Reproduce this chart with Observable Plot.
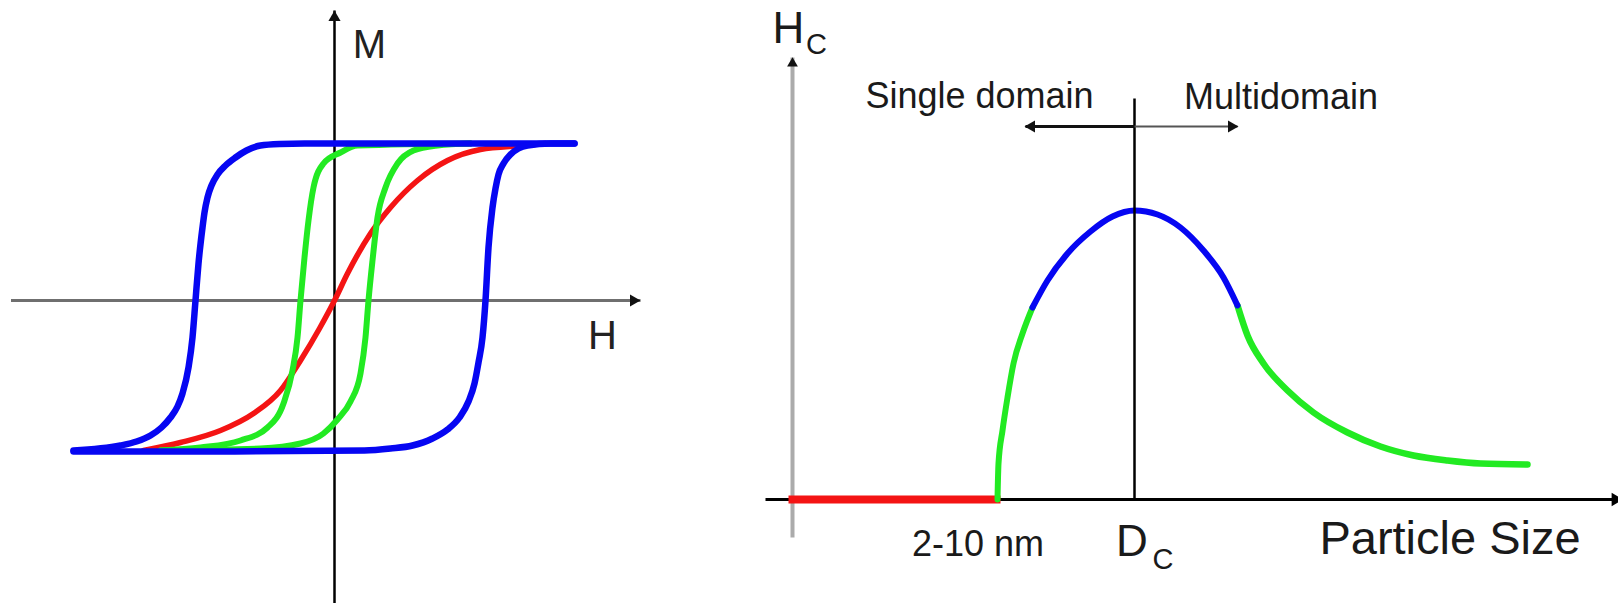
<!DOCTYPE html>
<html>
<head>
<meta charset="utf-8">
<script src="https://cdn.jsdelivr.net/npm/d3@7"></script>
<script src="https://cdn.jsdelivr.net/npm/@observablehq/plot@0.6"></script>
<style>
  html, body { margin: 0; padding: 0; background: #fff; }
  #wrap { position: relative; width: 1618px; height: 603px; overflow: hidden; background: #fff; }
  #wrap > svg { position: absolute; top: 0; }
</style>
</head>
<body>
<div id="wrap"></div>
<script>
// ---------- Left panel: M-H hysteresis loops (arbitrary units) ----------
const blueDescending = [[2.40,1.57],[1.0,1.57],[-0.30,1.57],[-0.55,1.565],[-0.74,1.55],[-0.88,1.50],[-0.99,1.43],[-1.09,1.35],[-1.17,1.26],[-1.23,1.15],[-1.27,1.03],[-1.30,0.88],[-1.32,0.73],[-1.36,0.37],[-1.39,0],[-1.42,-0.37],[-1.46,-0.67],[-1.52,-0.93],[-1.57,-1.06],[-1.64,-1.17],[-1.73,-1.27],[-1.84,-1.35],[-1.98,-1.41],[-2.14,-1.45],[-2.61,-1.50]];
const blueAscending = [[-2.61,-1.51],[-1.0,-1.51],[0.30,-1.50],[0.56,-1.48],[0.78,-1.45],[0.98,-1.38],[1.13,-1.29],[1.25,-1.17],[1.34,-1.01],[1.40,-0.83],[1.44,-0.62],[1.48,-0.37],[1.51,0],[1.54,0.53],[1.58,0.93],[1.61,1.12],[1.64,1.26],[1.69,1.37],[1.76,1.46],[1.84,1.52],[1.93,1.55],[2.16,1.57],[2.40,1.57]];
const greenDescending = [[1.36,1.57],[0.23,1.55],[0.06,1.48],[-0.11,1.37],[-0.21,1.13],[-0.26,0.80],[-0.30,0.43],[-0.34,0],[-0.37,-0.37],[-0.42,-0.70],[-0.51,-1.03],[-0.67,-1.27],[-0.94,-1.40],[-1.34,-1.47],[-1.74,-1.50]];
const greenAscending = [[-1.74,-1.50],[-0.74,-1.48],[-0.34,-1.43],[-0.11,-1.33],[0.03,-1.19],[0.16,-1.01],[0.26,-0.73],[0.31,-0.37],[0.34,0],[0.38,0.40],[0.43,0.83],[0.51,1.13],[0.63,1.37],[0.79,1.50],[1.03,1.55],[1.36,1.57]];
const redCurve = [[-1.91,-1.50],[-1.54,-1.42],[-1.14,-1.30],[-0.81,-1.13],[-0.54,-0.90],[-0.34,-0.60],[-0.15,-0.28],[0,0],[0.13,0.27],[0.36,0.67],[0.56,0.93],[0.83,1.20],[1.13,1.40],[1.46,1.51],[1.89,1.55],[2.11,1.57]];
const hAxisExtent = [-3.235, 3.06];
const mAxisExtent = [-3.03, 2.90];
const leftLabels = [{x: 0.35, y: 2.55, text: "M"}, {x: 2.68, y: -0.36, text: "H"}];

// ---------- Right panel: coercivity vs particle size (arbitrary units) ----------
const redSegment = [[-0.04,0],[2.08,0]];
const greenRise = [[2.05,0],[2.06,0.36],[2.10,0.69],[2.15,1.02],[2.21,1.36],[2.30,1.66],[2.40,1.92]];
const bluePeak = [[2.40,1.92],[2.55,2.19],[2.75,2.46],[2.98,2.68],[3.20,2.83],[3.42,2.89],[3.65,2.85],[3.88,2.72],[4.11,2.49],[4.31,2.22],[4.45,1.94]];
const greenTail = [[4.45,1.94],[4.55,1.64],[4.71,1.36],[4.95,1.09],[5.21,0.87],[5.55,0.67],[5.88,0.53],[6.21,0.44],[6.55,0.39],[6.88,0.36],[7.35,0.35]];
const criticalSize = 3.42;          // D_C
const criticalLineTop = 4.01;
const domainArrowY = 3.73;
const domainArrowTips = [2.33, 4.45];
const sizeAxisExtent = [-0.27, 8.30];
const hcAxisExtent = [-0.38, 4.42];
const rightLabels = [
  {x: 1.87, y: 3.92, text: "Single domain", size: 36},
  {x: 4.885, y: 3.91, text: "Multidomain", size: 36},
  {x: 1.855, y: -0.56, text: "2-10 nm", size: 36},
  {x: 6.575, y: -0.545, text: "Particle Size", size: 47}
];
const mainSymbols = [{x: -0.04, y: 4.57, text: "H"}, {x: 3.395, y: -0.56, text: "D"}];
const subSymbols = [{x: 0.24, y: 4.46, text: "C"}, {x: 3.705, y: -0.69, text: "C"}];

const FONT = "'Liberation Sans', Arial, Helvetica, sans-serif";
const BLUE = "#0606f2", GREEN = "#22ea22", RED = "#f41414";
const px = d => d[0], py = d => d[1];
const CURVE = "monotone-x";

const left = Plot.plot({
  width: 660, height: 603, margin: 0,
  style: {background: "transparent", overflow: "visible"},
  x: {domain: [-3.34, 3.26], axis: null},
  y: {domain: [-3.03, 3.00], axis: null},
  marks: [
    Plot.link([{x1: hAxisExtent[0], x2: hAxisExtent[1], y: 0}], {x1: "x1", x2: "x2", y1: "y", y2: "y", stroke: "#6f6f6f", strokeWidth: 3}),
    Plot.dot([{x: hAxisExtent[1], y: 0}], {x: "x", y: "y", symbol: "triangle", rotate: 90, r: 4.5, fill: "#111", stroke: "none", dx: -7}),
    Plot.link([{y1: mAxisExtent[0], y2: mAxisExtent[1], x: 0}], {y1: "y1", y2: "y2", x1: "x", x2: "x", stroke: "#000", strokeWidth: 2.5}),
    Plot.dot([{x: 0, y: mAxisExtent[1]}], {x: "x", y: "y", symbol: "triangle", r: 4.5, fill: "#111", stroke: "none", dy: 7}),
    Plot.line(redCurve, {x: px, y: py, curve: CURVE, stroke: RED, strokeWidth: 5.5, strokeLinecap: "round"}),
    Plot.line(greenDescending, {x: px, y: py, curve: CURVE, stroke: GREEN, strokeWidth: 6, strokeLinecap: "round"}),
    Plot.line(greenAscending, {x: px, y: py, curve: CURVE, stroke: GREEN, strokeWidth: 6, strokeLinecap: "round"}),
    Plot.line(blueDescending, {x: px, y: py, curve: CURVE, stroke: BLUE, strokeWidth: 6.5, strokeLinecap: "round"}),
    Plot.line(blueAscending, {x: px, y: py, curve: CURVE, stroke: BLUE, strokeWidth: 6.5, strokeLinecap: "round"}),
    Plot.text(leftLabels, {x: "x", y: "y", text: "text", fontSize: 40, fontFamily: FONT, fill: "#222", textAnchor: "middle", lineAnchor: "middle"})
  ]
});

const right = Plot.plot({
  width: 878, height: 603, margin: 0,
  style: {background: "transparent"},
  x: {domain: [-0.52, 8.26], axis: null},
  y: {domain: [-1.04, 4.99], axis: null},
  marks: [
    Plot.link([{x: 0, y1: hcAxisExtent[0], y2: hcAxisExtent[1]}], {x1: "x", x2: "x", y1: "y1", y2: "y2", stroke: "#ababab", strokeWidth: 4}),
    Plot.dot([{x: 0, y: hcAxisExtent[1]}], {x: "x", y: "y", symbol: "triangle", r: 4, fill: "#111", stroke: "none", dy: 6}),
    Plot.link([{x1: sizeAxisExtent[0], x2: sizeAxisExtent[1], y: 0}], {x1: "x1", x2: "x2", y1: "y", y2: "y", stroke: "#000", strokeWidth: 3}),
    Plot.dot([{x: sizeAxisExtent[1], y: 0}], {x: "x", y: "y", symbol: "triangle", rotate: 90, r: 5, fill: "#000", stroke: "none", dx: -7}),
    Plot.line(redSegment, {x: px, y: py, stroke: RED, strokeWidth: 8, strokeLinecap: "butt"}),
    Plot.line(greenRise, {x: px, y: py, curve: CURVE, stroke: GREEN, strokeWidth: 6}),
    Plot.line(greenTail, {x: px, y: py, curve: CURVE, stroke: GREEN, strokeWidth: 6.5}),
    Plot.line(bluePeak, {x: px, y: py, curve: CURVE, stroke: BLUE, strokeWidth: 6}),
    Plot.link([{x: criticalSize, y1: 0, y2: criticalLineTop}], {x1: "x", x2: "x", y1: "y1", y2: "y2", stroke: "#000", strokeWidth: 2.5}),
    Plot.link([{x1: criticalSize, x2: domainArrowTips[0], y: domainArrowY}], {x1: "x1", x2: "x2", y1: "y", y2: "y", stroke: "#111", strokeWidth: 3}),
    Plot.link([{x1: criticalSize, x2: domainArrowTips[1], y: domainArrowY}], {x1: "x1", x2: "x2", y1: "y", y2: "y", stroke: "#555", strokeWidth: 2}),
    Plot.dot([{x: domainArrowTips[0], y: domainArrowY}], {x: "x", y: "y", symbol: "triangle", rotate: -90, r: 4.5, fill: "#111", stroke: "none", dx: 6}),
    Plot.dot([{x: domainArrowTips[1], y: domainArrowY}], {x: "x", y: "y", symbol: "triangle", rotate: 90, r: 4.5, fill: "#111", stroke: "none", dx: -6}),
    Plot.text(rightLabels, {x: "x", y: "y", text: "text", fontSize: d => d.size, fontFamily: FONT, fill: "#1a1a1a", textAnchor: "middle", lineAnchor: "bottom"}),
    Plot.text(mainSymbols, {x: "x", y: "y", text: "text", fontSize: 44, fontFamily: FONT, fill: "#1a1a1a", textAnchor: "middle", lineAnchor: "bottom"}),
    Plot.text(subSymbols, {x: "x", y: "y", text: "text", fontSize: 29, fontFamily: FONT, fill: "#1a1a1a", textAnchor: "middle", lineAnchor: "bottom"})
  ]
});

left.style.left = "0px";
right.style.left = "740px";
document.getElementById("wrap").append(left, right);
</script>
</body>
</html>
